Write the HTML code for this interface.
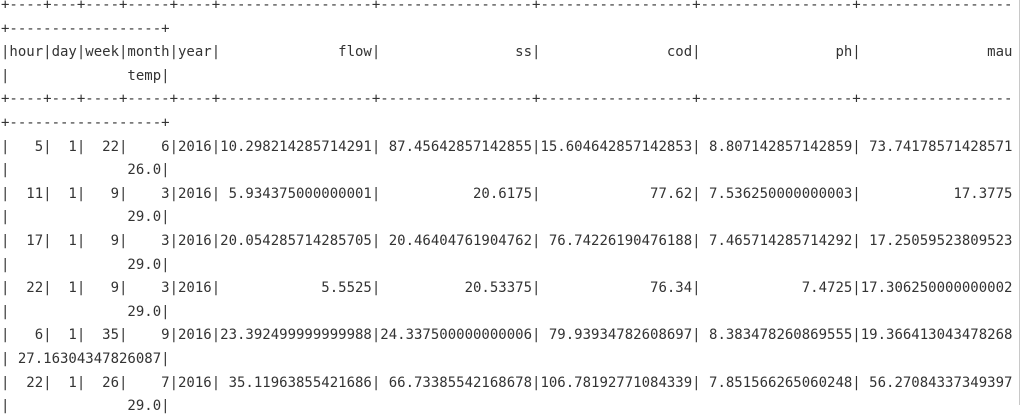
<!DOCTYPE html>
<html><head><meta charset="utf-8"><style>
html,body{margin:0;padding:0;width:1023px;height:405px;overflow:hidden;background:#fff}
pre{position:absolute;left:1px;top:-6px;margin:0;font-family:"DejaVu Sans Mono","Liberation Mono",monospace;font-size:14px;line-height:23.6px;color:#333;white-space:pre}
#edge{position:absolute;left:1019px;top:0;width:1px;height:405px;background:#c8c8c8}
</style></head><body>
<pre>+----+---+----+-----+----+------------------+------------------+------------------+------------------+------------------
+------------------+
|hour|day|week|month|year|              flow|                ss|               cod|                ph|               mau
|              temp|
+----+---+----+-----+----+------------------+------------------+------------------+------------------+------------------
+------------------+
|   5|  1|  22|    6|2016|10.298214285714291| 87.45642857142855|15.604642857142853| 8.807142857142859| 73.74178571428571
|              26.0|
|  11|  1|   9|    3|2016| 5.934375000000001|           20.6175|             77.62| 7.536250000000003|           17.3775
|              29.0|
|  17|  1|   9|    3|2016|20.054285714285705| 20.46404761904762| 76.74226190476188| 7.465714285714292| 17.25059523809523
|              29.0|
|  22|  1|   9|    3|2016|            5.5525|          20.53375|             76.34|            7.4725|17.306250000000002
|              29.0|
|   6|  1|  35|    9|2016|23.392499999999988|24.337500000000006| 79.93934782608697| 8.383478260869555|19.366413043478268
| 27.16304347826087|
|  22|  1|  26|    7|2016| 35.11963855421686| 66.73385542168678|106.78192771084339| 7.851566265060248| 56.27084337349397
|              29.0|</pre>
<div id="edge"></div>
</body></html>
